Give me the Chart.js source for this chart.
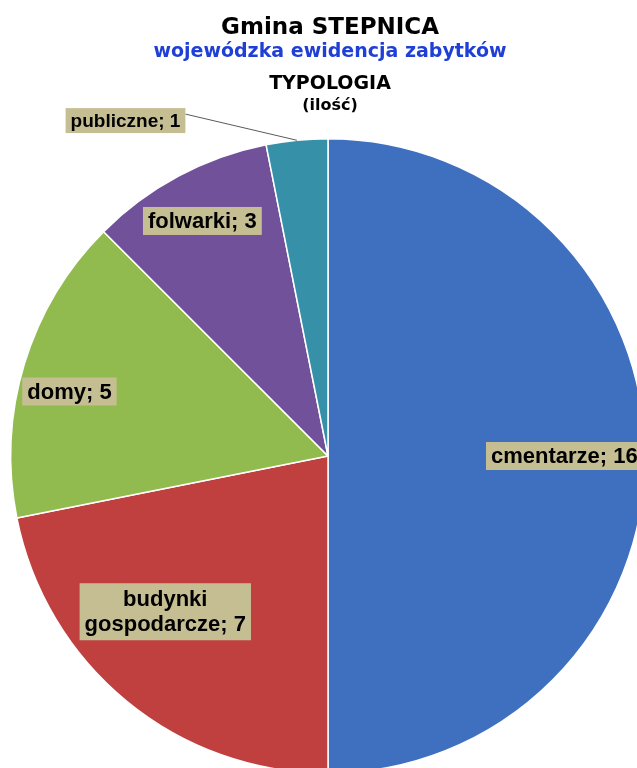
<!DOCTYPE html>
<html lang="pl">
<head>
  <meta charset="UTF-8">
  <title>Gmina Stepnica - typologia</title>
  <style>
    html, body { margin: 0; padding: 0; overflow: hidden; background: #fff; }
    .wrap { position: absolute; left: 0; top: 0; width: 656px; height: 800px; }
  </style>
</head>
<body>
  <div class="wrap">
    <canvas id="pieChart" width="656" height="800"></canvas>
  </div>

  <script src="https://cdn.jsdelivr.net/npm/chart.js"></script>
  <script>
    // dane z wykresu
    const categories = ['cmentarze', 'budynki gospodarcze', 'domy', 'folwarki', 'publiczne']
    const counts = [16, 7, 5, 3, 1]
    const sliceColors = ['#3F70BF', '#C0403F', '#92BB4F', '#71529A', '#3590A8']

    const titleLines = [
      { text: 'Gmina STEPNICA', color: '#000', size: 23, y: 28 },
      { text: 'wojewódzka ewidencja zabytków', color: '#1F3FD6', size: 19, y: 52 },
      { text: 'TYPOLOGIA', color: '#000', size: 19, y: 84 },
      { text: '(ilość)', color: '#000', size: 16, y: 106 }
    ]

    // tytuł rysowany na płótnie (każda linia ma inny kolor)
    const titlePlugin = {
      id: 'multiTitle',
      afterDraw(chart) {
        const ctx = chart.ctx
        ctx.save()
        ctx.textAlign = 'center'
        ctx.textBaseline = 'middle'
        titleLines.forEach(line => {
          ctx.font = 'bold ' + line.size + 'px "DejaVu Sans", sans-serif'
          ctx.fillStyle = line.color
          ctx.fillText(line.text, 330, line.y)
        })
        ctx.restore()
      }
    }

    // etykiety danych z tłem (jak w Excelu)
    const labelPlugin = {
      id: 'boxLabels',
      afterDatasetsDraw(chart, args, opts) {
        const ctx = chart.ctx
        const meta = chart.getDatasetMeta(0)
        ctx.save()
        ctx.textAlign = 'center'
        ctx.textBaseline = 'middle'
        meta.data.forEach((arc, i) => {
          const p = arc.getProps(['x', 'y', 'startAngle', 'endAngle', 'outerRadius'], true)
          const place = opts.places[i]
          const mid = (p.startAngle + p.endAngle) / 2
          const ang = mid + place.shift
          const cx = p.x + Math.cos(ang) * p.outerRadius * place.r
          const cy = p.y + Math.sin(ang) * p.outerRadius * place.r
          ctx.font = 'bold ' + place.size + 'px "Liberation Sans", Arial, sans-serif'
          const name = categories[i]
          let lines = [name + '; ' + counts[i]]
          if (name.indexOf(' ') > 0) {
            const parts = name.split(' ')
            lines = [parts[0], parts.slice(1).join(' ') + '; ' + counts[i]]
          }
          const lh = Math.round(place.size * 1.14)
          const w = Math.max(...lines.map(l => ctx.measureText(l).width)) + 10
          const h = lines.length * lh + (lines.length > 1 ? 7 : 3)
          const left = cx - w / 2
          const top = cy - h / 2

          // linia odniesienia dla etykiet poza wycinkiem
          if (place.r > 1) {
            ctx.strokeStyle = '#5a5a5a'
            ctx.lineWidth = 1
            ctx.beginPath()
            ctx.moveTo(left + w, top + 6)
            ctx.lineTo(p.x + Math.cos(mid) * p.outerRadius, p.y + Math.sin(mid) * p.outerRadius)
            ctx.stroke()
          }

          ctx.fillStyle = '#C6BE93'
          ctx.fillRect(left, top, w, h)
          ctx.fillStyle = '#000'
          lines.forEach((l, k) => {
            ctx.fillText(l, cx, top + h / 2 + (k - (lines.length - 1) / 2) * lh + 1)
          })
        })
        ctx.restore()
      }
    }

    const ctxEl = document.getElementById('pieChart')
    new Chart(ctxEl, {
      type: 'pie',
      data: {
        labels: categories,
        datasets: [{
          data: counts,
          backgroundColor: sliceColors,
          borderColor: '#ffffff',
          borderWidth: 1.5
        }]
      },
      options: {
        responsive: false,
        animation: false,
        layout: { padding: { top: 138, left: 10, right: 10, bottom: 26 } },
        plugins: {
          legend: { display: false },
          tooltip: { enabled: false },
          title: { display: false },
          boxLabels: {
            places: [
              { r: 0.745, shift: 0, size: 22 },
              { r: 0.71, shift: 0.12, size: 22 },
              { r: 0.84, shift: -0.05, size: 22 },
              { r: 0.84, shift: 0, size: 22 },
              { r: 1.235, shift: -0.445, size: 19 }
            ]
          }
        }
      },
      plugins: [titlePlugin, labelPlugin]
    })
  </script>
</body>
</html>
